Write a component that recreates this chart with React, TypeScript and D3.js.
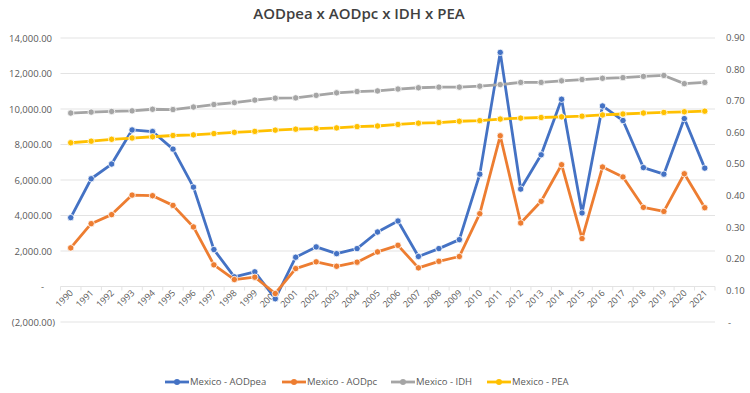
import React, { useEffect, useRef } from 'react';
import * as d3 from 'd3';

const years = [
  '1990', '1991', '1992', '1993', '1994', '1995', '1996', '1997', '1998', '1999', '2000',
  '2001', '2002', '2003', '2004', '2005', '2006', '2007', '2008', '2009', '2010', '2011',
  '2012', '2013', '2014', '2015', '2016', '2017', '2018', '2019', '2020', '2021',
];

// left axis
const aodPea = [
  3880, 6070, 6900, 8820, 8730, 7740, 5600, 2080, 545, 826, -690, 1650, 2230, 1850, 2135,
  3070, 3690, 1690, 2135, 2640, 6330, 13190, 5490, 7420, 10550, 4140, 10170, 9350, 6700,
  6330, 9460, 6670,
];
const aodPc = [
  2175, 3540, 4050, 5150, 5115, 4570, 3355, 1220, 393, 525, -393, 1010, 1390, 1140, 1370,
  1950, 2320, 1050, 1420, 1690, 4100, 8490, 3580, 4800, 6860, 2700, 6730, 6170, 4460, 4230,
  6350, 4440,
];
// right axis
const idh = [
  0.661, 0.664, 0.666, 0.668, 0.673, 0.672, 0.68, 0.688, 0.694, 0.702, 0.708, 0.709, 0.717,
  0.725, 0.729, 0.731, 0.737, 0.741, 0.743, 0.743, 0.746, 0.751, 0.758, 0.758, 0.763, 0.767,
  0.771, 0.773, 0.777, 0.78, 0.754, 0.758,
];
const pea = [
  0.567, 0.572, 0.578, 0.582, 0.586, 0.59, 0.592, 0.596, 0.6, 0.603, 0.607, 0.61, 0.612,
  0.614, 0.618, 0.62, 0.625, 0.629, 0.631, 0.635, 0.637, 0.642, 0.645, 0.647, 0.649, 0.651,
  0.655, 0.658, 0.661, 0.663, 0.665, 0.667,
];

const leftTicks = [-2000, 0, 2000, 4000, 6000, 8000, 10000, 12000, 14000];
const rightTicks = [0, 0.1, 0.2, 0.3, 0.4, 0.5, 0.6, 0.7, 0.8, 0.9];

const seriesList = [
  { name: 'Mexico - AODpea', values: aodPea, axis: 'left', color: '#4472C4' },
  { name: 'Mexico - AODpc', values: aodPc, axis: 'left', color: '#ED7D31' },
  { name: 'Mexico - IDH', values: idh, axis: 'right', color: '#A5A5A5' },
  { name: 'Mexico - PEA', values: pea, axis: 'right', color: '#FFC000' },
];

const FONT = '"Open Sans", "Liberation Sans", sans-serif';

export default function App() {
  const ref = useRef<SVGSVGElement>(null);

  useEffect(() => {
    document.body.style.margin = '0';
    const width = 750;
    const height = 393;
    const svg = d3.select(ref.current);
    svg.selectAll('*').remove();

    const x = d3.scaleBand().domain(years).range([60.5, 715]);
    const cx = (d: string) => (x(d) as number) + x.bandwidth() / 2;
    const yL = d3.scaleLinear().domain([-2000, 14000]).range([322, 38]);
    const yR = d3.scaleLinear().domain([0, 0.9]).range([322, 37.5]);

    svg.append('rect').attr('width', width).attr('height', height).attr('fill', '#fff');

    // title
    svg
      .append('text')
      .attr('x', 359)
      .attr('y', 19)
      .attr('text-anchor', 'middle')
      .attr('font-family', FONT)
      .attr('font-size', 15)
      .attr('font-weight', 600)
      .attr('fill', '#404040')
      .text('AODpea x AODpc x IDH x PEA');

    // gridlines
    svg
      .append('g')
      .selectAll('line')
      .data(leftTicks)
      .join('line')
      .attr('x1', 60.5)
      .attr('x2', 715)
      .attr('y1', (d) => yL(d))
      .attr('y2', (d) => yL(d))
      .attr('stroke', '#e3e3e3')
      .attr('stroke-width', 1);

    // x axis ticks
    const bounds = years.map((d) => x(d) as number).concat([715]);
    svg
      .append('g')
      .selectAll('line')
      .data(bounds)
      .join('line')
      .attr('x1', (d) => d)
      .attr('x2', (d) => d)
      .attr('y1', yL(0))
      .attr('y2', yL(0) + 4)
      .attr('stroke', '#e3e3e3');

    // left labels
    const fmt = d3.format(',.2f');
    svg
      .append('g')
      .selectAll('text')
      .data(leftTicks)
      .join('text')
      .attr('x', (d) => (d === 0 ? 44 : d < 0 ? 55 : 52))
      .attr('y', (d) => yL(d) + 3.5)
      .attr('text-anchor', 'end')
      .attr('font-family', FONT)
      .attr('font-size', 9.5)
      .attr('fill', '#595959')
      .text((d) => (d === 0 ? '-' : d < 0 ? `(${fmt(-d)})` : fmt(d)));

    // right labels
    svg
      .append('g')
      .selectAll('text')
      .data(rightTicks)
      .join('text')
      .attr('x', (d) => (d === 0 ? 728 : 726))
      .attr('y', (d) => yR(d) + 3.5)
      .attr('font-family', FONT)
      .attr('font-size', 9.5)
      .attr('fill', '#595959')
      .text((d) => (d === 0 ? '-' : d.toFixed(2)));

    // x labels
    svg
      .append('g')
      .selectAll('text')
      .data(years)
      .join('text')
      .attr('transform', (d) => `translate(${cx(d) + 3},${yL(0) + 7}) rotate(-45)`)
      .attr('text-anchor', 'end')
      .attr('font-family', FONT)
      .attr('font-size', 9)
      .attr('fill', '#595959')
      .text((d) => d);

    // series
    seriesList.forEach((s) => {
      const y = s.axis === 'left' ? yL : yR;
      const line = d3
        .line<number>()
        .x((_, i) => cx(years[i]))
        .y((d) => y(d));
      const g = svg.append('g');
      g.append('path')
        .datum(s.values)
        .attr('d', line)
        .attr('fill', 'none')
        .attr('stroke', s.color)
        .attr('stroke-width', 2.8)
        .attr('stroke-linejoin', 'round');
      g.selectAll('circle')
        .data(s.values)
        .join('circle')
        .attr('cx', (_, i) => cx(years[i]))
        .attr('cy', (d) => y(d))
        .attr('r', 3.2)
        .attr('fill', s.color)
        .attr('stroke', '#fff')
        .attr('stroke-width', 0.8);
    });

    // legend
    const legendX = [165, 282, 391, 487];
    const ly = 382;
    seriesList.forEach((s, i) => {
      const lg = svg.append('g').attr('transform', `translate(${legendX[i]},${ly})`);
      lg.append('line')
        .attr('x1', 0)
        .attr('x2', 24)
        .attr('stroke', s.color)
        .attr('stroke-width', 2.8);
      lg.append('circle').attr('cx', 12).attr('r', 3).attr('fill', s.color);
      lg.append('text')
        .attr('x', 25)
        .attr('y', 3.4)
        .attr('font-family', FONT)
        .attr('font-size', 9.5)
        .attr('fill', '#595959')
        .text(s.name);
    });
  }, []);

  return <svg ref={ref} width={750} height={393} style={{ display: 'block' }} />;
}
